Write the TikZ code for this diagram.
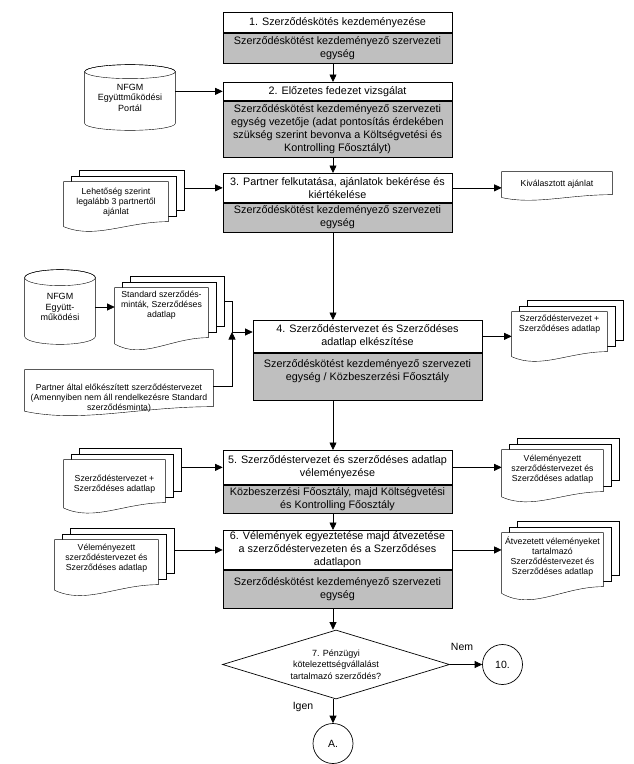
\documentclass[tikz,border=0pt]{standalone}
\usepackage{fontspec}
\setmainfont{Liberation Sans}
\usetikzlibrary{shapes.geometric,arrows.meta,calc,backgrounds}

\tikzset{
  etape/.style={draw, fill=white, minimum width=229pt, align=center, inner sep=1.5pt,
    font=\fontsize{10.8}{13}\selectfont},
  resp/.style={etape, fill=gray!50},
  doc/.style={align=center, inner sep=1pt, font=\fontsize{8.7}{10}\selectfont},
  base/.style={align=center, inner sep=1pt, font=\fontsize{9}{10.5}\selectfont},
  fleche/.style={-{Triangle[length=7.5pt,width=7pt]}},
  renvoi/.style={circle, draw, minimum size=40pt, inner sep=0pt, font=\fontsize{10.5}{12}\selectfont}
}

% page au bas ondule : #1 noeud, #2 hauteur du bord droit
\newcommand{\docpage}[2]{%
  \draw[fill=white] let \p1=(#1.north west), \p2=(#1.north east) in
    (\p1) -- (\p2) -- (\x2,{\y2-#2pt})
    .. controls ({\x2-0.4*(\x2-\x1)},{\y2-#2pt}) and ({\x1+0.3*(\x2-\x1)},{\y2-1.45*#2pt}) .. (\x1,{\y2-1.125*#2pt}) -- cycle;
}
% pile de pages
\newcommand{\docpile}[2]{%
  \foreach \k in {2,1}
    \draw[fill=white] let \p1=(#1.north west), \p2=(#1.north east) in
      ({\x1+\k*7.7pt},{\y1+\k*5.5pt}) rectangle ({\x2+\k*7.7pt},{\y2-#2pt+\k*5.5pt});
  \docpage{#1}{#2}
}
% base de donnees : #1 noeud, #2 demi-hauteur de l'ellipse
\newcommand{\basedonnees}[2]{%
  \draw[fill=white] let \p1=(#1.north west), \p2=(#1.south east), \n1={(\x2-\x1)/2} in
    (\x1,{\y1-#2pt}) -- (\x1,{\y2+#2pt})
    arc[start angle=180, end angle=360, x radius=\n1, y radius=#2pt]
    -- (\x2,{\y1-#2pt})
    arc[start angle=0, end angle=180, x radius=\n1, y radius=#2pt];
  \draw let \p1=(#1.north west), \p2=(#1.south east), \n1={(\x2-\x1)/2} in
    ({\x1+\n1*1pt},{\y1-#2pt}) ellipse[x radius=\n1, y radius=#2pt];
}

\begin{document}
\begin{tikzpicture}[x=1pt, y=-1pt, line width=0.7pt]
    \useasboundingbox (0,0) rectangle (634,764);
    \coordinate (col) at (333,0);

    % Etapes
    \node[etape, minimum height=20pt, anchor=north] (t1) at (337.5,12) {1. Szerződéskötés kezdeményezése};
    \node[resp, minimum height=30pt, anchor=north] (g1) at (t1.south) {Szerződéskötést kezdeményező szervezeti\\egység};
    \node[etape, minimum height=18pt, anchor=north] (t2) at (337.5,82) {2. Előzetes fedezet vizsgálat};
    \node[resp, minimum height=56pt, anchor=north] (g2) at (t2.south) {Szerződéskötést kezdeményező szervezeti\\egység vezetője (adat pontosítás érdekében\\szükség szerint bevonva a Költségvetési és\\Kontrolling Főosztályt)};
    \node[etape, minimum height=29pt, anchor=north] (t3) at (337.5,173) {3. Partner felkutatása, ajánlatok bekérése és\\kiértékelése};
    \node[resp, minimum height=29pt, anchor=north] (g3) at (t3.south) {Szerződéskötést kezdeményező szervezeti\\egység};
    \node[etape, minimum height=32pt, anchor=north] (t4) at (367.5,320) {4. Szerződéstervezet és Szerződéses\\adatlap elkészítése};
    \node[resp, minimum height=47pt, anchor=north,
      label={[anchor=north, yshift=-3pt, align=center, font=\fontsize{10.8}{13}\selectfont]north:Szerződéskötést kezdeményező szervezeti\\egység / Közbeszerzési Főosztály}] (g4) at (t4.south) {};
    \node[etape, minimum height=34pt, anchor=north] (t5) at (337.5,450) {5. Szerződéstervezet és szerződéses adatlap\\véleményezése};
    \node[resp, minimum height=28pt, anchor=north] (g5) at (t5.south) {Közbeszerzési Főosztály, majd Költségvetési\\és Kontrolling Főosztály};
    \node[etape, minimum height=39pt, anchor=north] (t6) at (337.5,530) {6. Vélemények egyeztetése majd átvezetése\\a szerződéstervezeten és a Szerződéses\\adatlapon};
    \node[resp, minimum height=38pt, anchor=north] (g6) at (t6.south) {Szerződéskötést kezdeményező szervezeti\\egység};

    % Decision et renvois
    \node[diamond, draw, aspect=3.3, minimum width=227pt, minimum height=69pt, inner sep=0pt,
      align=center, font=\fontsize{9}{11.5}\selectfont] (q7) at (336,664.5) {7. Pénzügyi\\kötelezettségvállalást\\tartalmazó szerződés?};
    \node[renvoi] (c10) at (502.5,664.5) {10.};
    \node[renvoi] (cA) at (333,743.5) {A.};
    \node[font=\fontsize{10.5}{12}\selectfont] (nem) at (462,647) {Nem};
    \node[font=\fontsize{10.5}{12}\selectfont] (igen) at (303,707) {Igen};

    % Documents
    \node[base, minimum width=90pt, minimum height=65pt] (cyl1) at (130,97.5) {NFGM\\Együttműködési\\Portál};
    \node[doc, minimum width=104pt, minimum height=40pt] (d3l) at (116,202) {Lehetőség szerint\\legalább 3 partnertől\\ajánlat};
    \node[doc, minimum width=110pt, minimum height=24pt] (d3r) at (557,184) {Kiválasztott ajánlat};
    \node[base, minimum width=70pt, minimum height=74pt] (cyl2) at (60,307) {NFGM\\Együtt-\\működési};
    \node[doc, minimum width=93pt, minimum height=35pt] (std) at (161.5,305.5) {Standard szerződés-\\minták, Szerződéses\\adatlap};
    \node[doc, minimum width=188pt, minimum height=56pt] (partner) at (119,398) {Partner által előkészített szerződéstervezet\\(Amennyiben nem áll rendelkezésre Standard\\szerződésminta)};
    \node[doc, minimum width=95pt, minimum height=24pt] (d4r) at (559.5,324) {Szerződéstervezet +\\Szerződéses adatlap};
    \node[doc, minimum width=101pt, minimum height=48pt] (d5l) at (114.5,484) {Szerződéstervezet +\\Szerződéses adatlap};
    \node[doc, minimum width=101pt, minimum height=39pt] (d5r) at (552.5,469.5) {Véleményezett\\szerződéstervezet és\\Szerződéses adatlap};
    \node[doc, minimum width=103pt, minimum height=36pt] (d6l) at (106.5,558) {Véleményezett\\szerződéstervezet és\\Szerződéses adatlap};
    \node[doc, minimum width=101pt, minimum height=48pt] (d6r) at (552.5,557) {Átvezetett véleményeket\\tartalmazó\\Szerződéstervezet és\\Szerződéses adatlap};

    \begin{scope}[on background layer]
        \basedonnees{cyl1}{7}
        \basedonnees{cyl2}{8}
        \docpile{d3l}{40}
        \docpage{d3r}{23}
        \docpile{std}{50}
        \docpage{partner}{37}
        \docpile{d4r}{40}
        \docpile{d5l}{43}
        \docpile{d5r}{42}
        \docpile{d6l}{45}
        \docpile{d6r}{54}
    \end{scope}

    % Fleches
    \foreach \a/\b in {g1/t2,g2/t3,g3/t4,g4/t5,g5/t6,g6/q7}
        \draw[fleche] (\a.south -| col) -- (\b.north -| col);
    \draw[fleche] (q7.south -| col) -- (cA.north);
    \draw[fleche] (q7.east) -- (c10.west);

    \draw[fleche] (cyl1.east |- t2.west) -- (t2.west);
    \draw[fleche] ($(d3l.east |- t3.west)+(15.4,0)$) -- (t3.west);
    \draw[fleche] (t3.east) -- (t3.east -| d3r.west);

    \coordinate (j4) at (232,332);
    \draw[fleche] (cyl2.east) -- (cyl2.east -| std.west);
    \draw ($(std.east)+(15.4,-4.5)$) -| (j4);
    \draw[fleche] ($(partner.east)+(0,-12)$) -| (j4);
    \draw[fleche] (j4) -- (j4 -| t4.west);
    \draw[fleche] (t4.east) -- (t4.east -| d4r.west);

    \draw[fleche] ($(d5l.east |- t5.west)+(15.4,0)$) -- (t5.west);
    \draw[fleche] (t5.east) -- (t5.east -| d5r.west);
    \draw[fleche] ($(d6l.east |- t6.west)+(15.4,0)$) -- (t6.west);
    \draw[fleche] (t6.east) -- (t6.east -| d6r.west);
\end{tikzpicture}
\end{document}
